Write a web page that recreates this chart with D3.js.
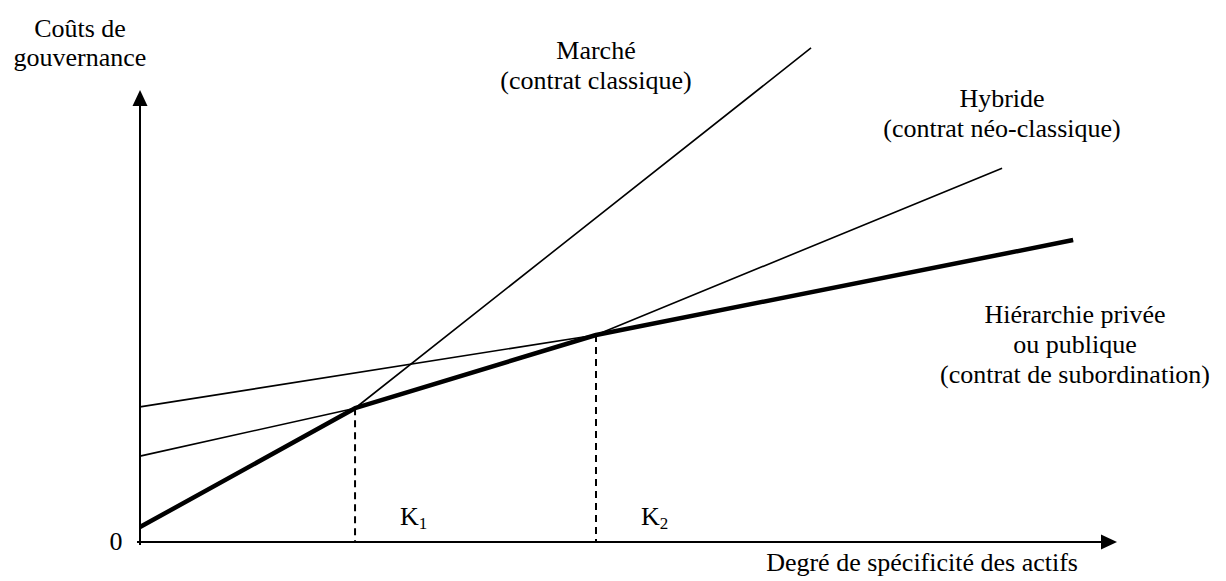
<!DOCTYPE html>
<html>
<head>
<meta charset="utf-8">
<script src="https://cdn.jsdelivr.net/npm/d3@7"></script>
<style>
  body { margin: 0; background: #fff; }
  text { font-family: "Liberation Serif", "Times New Roman", serif; font-size: 26px; fill: #000; }
</style>
</head>
<body>
<script>
// Donnees du schema (unites arbitraires : specificite en x, couts en y)
var marche = [[0, 0.33], [2.24, 2.96], [6.99, 10.93]];
var hybride = [[0, 1.90], [2.24, 2.96], [4.75, 4.58], [8.98, 8.27]];
var hierarchie = [[0, 2.99], [4.75, 4.58], [9.72, 6.68]];
// Enveloppe des couts minimaux (trait gras)
var minimum = [[0, 0.33], [2.24, 2.96], [4.75, 4.58], [9.72, 6.68]];
// Seuils K1 et K2
var seuils = [{nom: "K", indice: "1", x: 2.24, y: 2.96}, {nom: "K", indice: "2", x: 4.75, y: 4.58}];

var w = 1226;
var h = 581;

var svg = d3.select("body")
    .append("svg")
        .attr("width", w)
        .attr("height", h);

var x = d3.scaleLinear().domain([0, 10]).range([140, 1100]);
var y = d3.scaleLinear().domain([0, 10]).range([542, 90]);

var line = d3.line()
    .x(function(d) { return x(d[0]); })
    .y(function(d) { return y(d[1]); });

// Axes avec fleches
svg.append("line")
    .attr("x1", x(0)).attr("y1", y(0) + 3)
    .attr("x2", x(0)).attr("y2", y(0) - 438)
    .attr("stroke", "#000").attr("stroke-width", 2);
svg.append("path")
    .attr("d", "M" + x(0) + "," + (y(0) - 452) + " l-7.5,16 l15,0 z")
    .attr("fill", "#000");

svg.append("line")
    .attr("x1", x(0) - 3).attr("y1", y(0))
    .attr("x2", x(0) + 962).attr("y2", y(0))
    .attr("stroke", "#000").attr("stroke-width", 2);
svg.append("path")
    .attr("d", "M" + (x(0) + 977) + "," + y(0) + " l-16,-7.5 l0,15 z")
    .attr("fill", "#000");

// Pointilles verticaux
svg.selectAll("line.seuil")
    .data(seuils)
    .enter()
        .append("line")
        .attr("class", "seuil")
        .attr("x1", function(d) { return x(d.x); })
        .attr("x2", function(d) { return x(d.x); })
        .attr("y1", function(d) { return y(d.y); })
        .attr("y2", y(0))
        .attr("stroke", "#000")
        .attr("stroke-width", 2)
        .attr("stroke-dasharray", "7,5");

// Courbes fines
[marche, hybride, hierarchie].forEach(function(serie) {
    svg.append("path")
        .attr("d", line(serie))
        .attr("fill", "none")
        .attr("stroke", "#000")
        .attr("stroke-width", 1.6);
});

// Enveloppe en gras
svg.append("path")
    .attr("d", line(minimum))
    .attr("fill", "none")
    .attr("stroke", "#000")
    .attr("stroke-width", 4.5)
    .attr("stroke-linejoin", "round");

// Libelles K1, K2
svg.selectAll("text.seuil")
    .data(seuils)
    .enter()
        .append("text")
        .attr("class", "seuil")
        .attr("x", function(d) { return x(d.x) + 45; })
        .attr("y", y(0) - 17)
        .each(function(d) {
            var t = d3.select(this);
            t.append("tspan").text(d.nom);
            t.append("tspan").attr("dy", 4).style("font-size", "17px").text(d.indice);
        });

// Textes
function bloc(lignes, cx, y0, pas, ancre) {
    svg.append("text")
        .attr("text-anchor", ancre || "middle")
        .selectAll("tspan")
        .data(lignes)
        .enter()
            .append("tspan")
            .attr("x", cx)
            .attr("y", function(d, i) { return y0 + i * pas; })
            .text(function(d) { return d; });
}

bloc(["Coûts de", "gouvernance"], 80, 37, 29);
bloc(["Marché", "(contrat classique)"], 596, 59, 30);
bloc(["Hybride", "(contrat néo-classique)"], 1002, 107, 30);
bloc(["Hiérarchie privée", "ou publique", "(contrat de subordination)"], 1075, 323, 30);
bloc(["Degré de spécificité des actifs"], 1078, 571, 0, "end");
bloc(["0"], 116, 550, 0);
</script>
</body>
</html>
